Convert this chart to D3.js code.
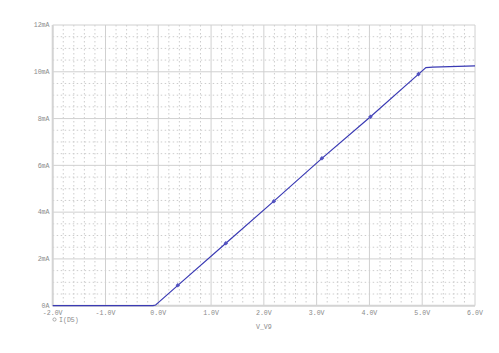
<!DOCTYPE html>
<html>
<head>
<meta charset="utf-8">
<script src="https://cdn.jsdelivr.net/npm/d3@7"></script>
<style>
  body { margin: 0; background: #fff; }
  text { font-family: "Liberation Mono", "DejaVu Sans Mono", monospace; fill: #8a8a8a; }
</style>
</head>
<body>
<svg id="chart" width="499" height="353"></svg>
<script>
// sweep of V_V9 (volts) and I(D5) (mA)
const volts = [-2.0, -1.0, -0.1, -0.05, 0.0, 0.37, 1.28, 2.19, 3.10, 4.02, 4.93, 5.0, 5.07, 5.2, 6.0];
const milliamps = [0, 0, 0, 0.03, 0.13, 0.87, 2.67, 4.47, 6.30, 8.08, 9.90, 10.04, 10.18, 10.20, 10.25];
// points where the trace carries a marker
const markerVolts = [0.37, 1.28, 2.19, 3.10, 4.02, 4.93];
const xTicks = [-2, -1, 0, 1, 2, 3, 4, 5, 6];
const yTicks = [0, 2, 4, 6, 8, 10, 12];

const svg = d3.select('#chart');
const plotL = 52.7, plotR = 475, plotT = 25, plotB = 305.7;

const x = d3.scaleLinear().domain([-2, 6]).range([plotL, plotR]);
const y = d3.scaleLinear().domain([0, 12]).range([plotB, plotT]);

// minor dotted grid
const minorX = d3.range(-2, 6.001, 0.2).filter(v => Math.abs(v - Math.round(v)) > 0.01);
const minorY = d3.range(0, 12.001, 0.5).filter(v => Math.abs(v / 2 - Math.round(v / 2)) > 0.01);

svg.append('g').selectAll('line').data(minorX).join('line')
    .attr('x1', d => x(d)).attr('x2', d => x(d))
    .attr('y1', plotT).attr('y2', plotB)
    .attr('stroke', '#cdcdcd').attr('stroke-width', 1)
    .attr('stroke-dasharray', '1.5,2.5');

svg.append('g').selectAll('line').data(minorY).join('line')
    .attr('x1', plotL).attr('x2', plotR)
    .attr('y1', d => y(d)).attr('y2', d => y(d))
    .attr('stroke', '#cdcdcd').attr('stroke-width', 1)
    .attr('stroke-dasharray', '1.5,2.5');

// major solid grid
svg.append('g').selectAll('line').data(xTicks).join('line')
    .attr('x1', d => x(d)).attr('x2', d => x(d))
    .attr('y1', plotT).attr('y2', plotB)
    .attr('stroke', '#d0d0d0').attr('stroke-width', 1);

svg.append('g').selectAll('line').data(yTicks).join('line')
    .attr('x1', plotL).attr('x2', plotR)
    .attr('y1', d => y(d)).attr('y2', d => y(d))
    .attr('stroke', '#d0d0d0').attr('stroke-width', 1);

// frame: left and bottom edges drawn heavier
svg.append('line').attr('x1', plotL).attr('x2', plotL).attr('y1', plotT).attr('y2', plotB)
    .attr('stroke', '#d4d4d4').attr('stroke-width', 2);
svg.append('line').attr('x1', plotL).attr('x2', plotR).attr('y1', plotB).attr('y2', plotB)
    .attr('stroke', '#d4d4d4').attr('stroke-width', 2);

// tick labels
svg.append('g').selectAll('text').data(xTicks).join('text')
    .attr('x', d => x(d)).attr('y', 315)
    .attr('text-anchor', 'middle').attr('font-size', '6.6px')
    .text(d => d.toFixed(1) + 'V');

svg.append('g').selectAll('text').data(yTicks).join('text')
    .attr('x', 49.5).attr('y', d => y(d) + 2.3)
    .attr('text-anchor', 'end').attr('font-size', '6.6px')
    .text(d => d === 0 ? '0A' : d + 'mA');

// axis title
svg.append('text').attr('x', (plotL + plotR) / 2).attr('y', 328.5)
    .attr('text-anchor', 'middle').attr('font-size', '6.6px')
    .text('V_V9');

// legend
svg.append('circle').attr('cx', 54.5).attr('cy', 319.5).attr('r', 1.6)
    .attr('fill', 'none').attr('stroke', '#999').attr('stroke-width', 0.8);
svg.append('text').attr('x', 59).attr('y', 321.8).attr('font-size', '6.6px')
    .text('I(D5)');

// trace
const pts = volts.map((v, i) => [v, milliamps[i]]);
const line = d3.line().x(d => x(d[0])).y(d => y(d[1]));
svg.append('path').datum(pts)
    .attr('d', line)
    .attr('fill', 'none').attr('stroke', '#3a3ab4').attr('stroke-width', 1.2);

const marks = pts.filter(p => markerVolts.includes(p[0]));
svg.append('g').selectAll('rect').data(marks).join('rect')
    .attr('x', d => x(d[0]) - 1.6).attr('y', d => y(d[1]) - 1.6)
    .attr('width', 3.2).attr('height', 3.2)
    .attr('transform', d => `rotate(45,${x(d[0])},${y(d[1])})`)
    .attr('fill', '#5252c0');
</script>
</body>
</html>
